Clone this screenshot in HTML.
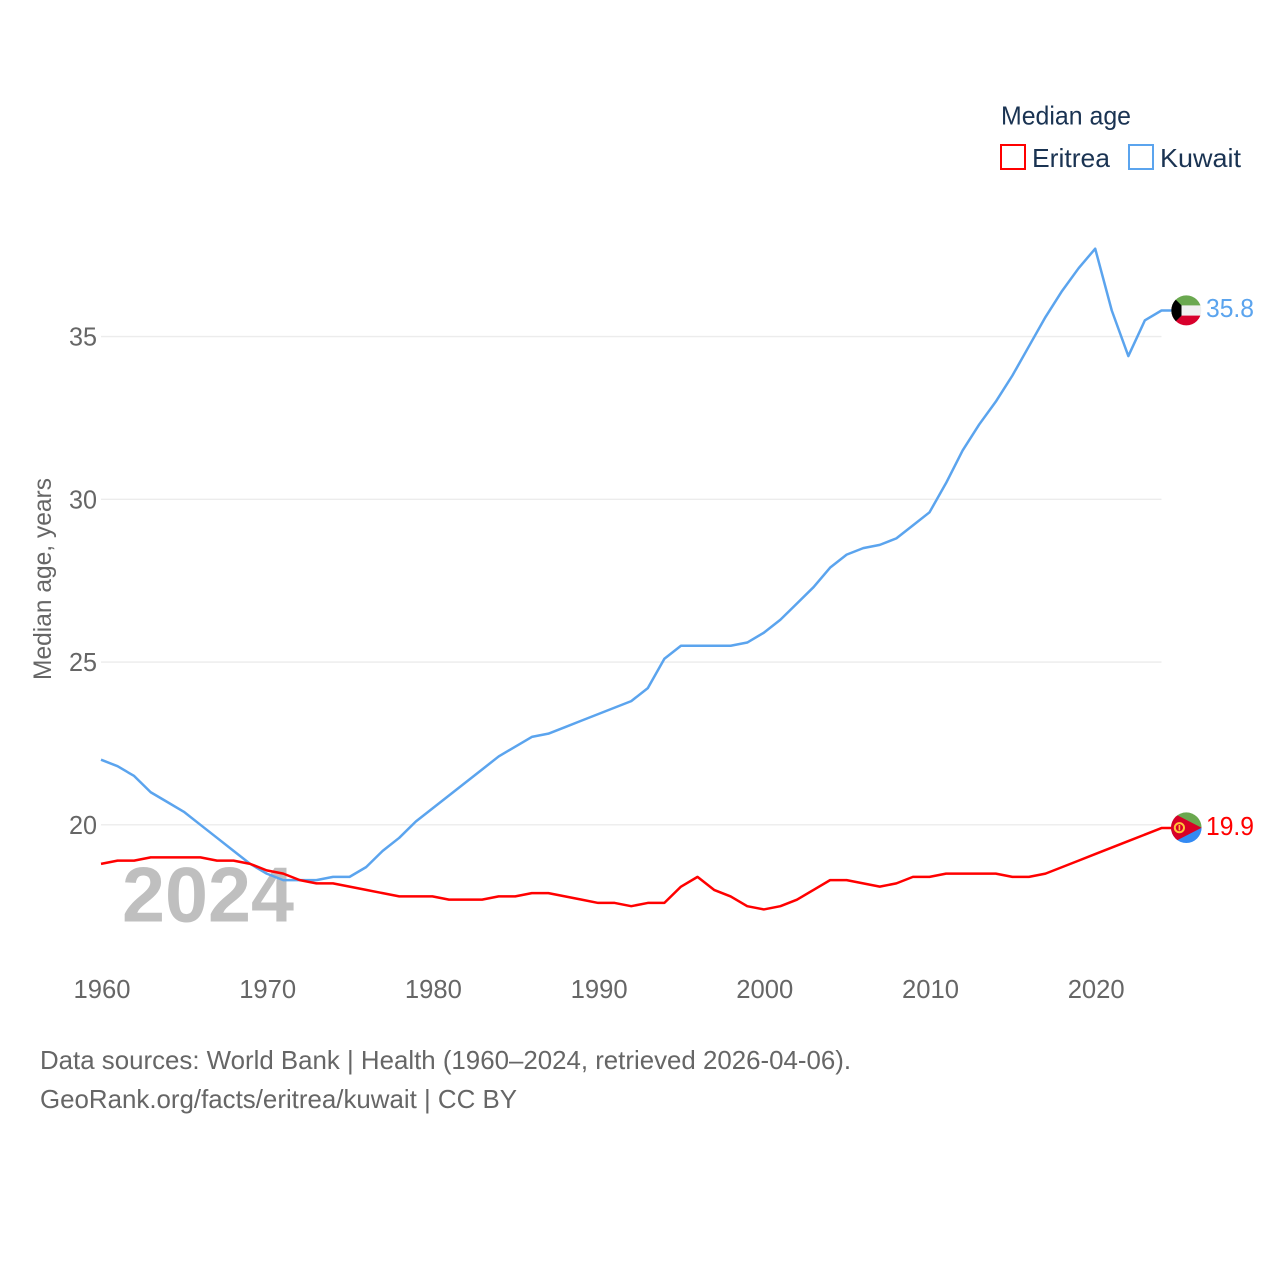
<!DOCTYPE html>
<html lang="en">
<head>
<meta charset="utf-8">
<title>Median age: Eritrea and Kuwait</title>
<style>
html,body{margin:0;padding:0;background:#fff;}
svg{display:block;}
text{font-family:"Liberation Sans",sans-serif;}
</style>
</head>
<body>
<svg id="chart" width="1280" height="1280" viewBox="0 0 1280 1280" xmlns="http://www.w3.org/2000/svg">
  <defs>
    <clipPath id="flag-clip-kw"><circle cx="1186.3" cy="310.4" r="15"/></clipPath>
    <clipPath id="flag-clip-er"><circle cx="1186.3" cy="827.7" r="15.3"/></clipPath>
  </defs>
  <rect x="0" y="0" width="1280" height="1280" fill="#ffffff"/>
  <g id="grid"></g>
  <text x="122" y="921.5" font-size="78" font-weight="700" fill="#bfbfbf" textLength="172" lengthAdjust="spacingAndGlyphs">2024</text>
  <g id="yticks"></g>
  <g id="xticks"></g>
  <text transform="translate(51 680) rotate(-90)" font-size="25" fill="#666666" textLength="202" lengthAdjust="spacingAndGlyphs">Median age, years</text>
  <g id="lines"></g>

  <g clip-path="url(#flag-clip-kw)">
    <rect x="1171" y="295" width="31" height="10.6" fill="#6aa84f"/>
    <rect x="1171" y="305.4" width="31" height="10.4" fill="#f0f0f0"/>
    <rect x="1171" y="315.6" width="31" height="11" fill="#d8002c"/>
    <polygon points="1171,295 1181.5,305.4 1181.5,315.6 1171,326" fill="#000000"/>
  </g>
  <text x="1206" y="317" font-size="26" fill="#5ba4ee" textLength="48" lengthAdjust="spacingAndGlyphs">35.8</text>

  <g clip-path="url(#flag-clip-er)">
    <rect x="1171" y="812" width="31" height="15.7" fill="#6aa84f"/>
    <rect x="1171" y="827.7" width="31" height="16" fill="#338af3"/>
    <polygon points="1171,812 1201.6,827.7 1171,843.4" fill="#d80027"/>
    <circle cx="1179.4" cy="827.7" r="4.6" fill="none" stroke="#ffc43a" stroke-width="2"/>
    <rect x="1178.6" y="825" width="1.6" height="5.4" fill="#ffc43a"/>
  </g>
  <text x="1206" y="835" font-size="26" fill="#ff0000" textLength="48" lengthAdjust="spacingAndGlyphs">19.9</text>

  <g>
    <text x="1001" y="124.5" font-size="26" fill="#1a3352" textLength="130" lengthAdjust="spacingAndGlyphs">Median age</text>
    <g>
      <rect x="1001" y="145" width="24" height="24" fill="#ffffff" stroke="#ff0000" stroke-width="2"/>
      <text x="1032" y="167" font-size="26" fill="#1a3352" textLength="78" lengthAdjust="spacingAndGlyphs">Eritrea</text>
    </g>
    <g>
      <rect x="1129" y="145" width="24" height="24" fill="#ffffff" stroke="#5ba4ee" stroke-width="2"/>
      <text x="1160" y="167" font-size="26" fill="#1a3352" textLength="81" lengthAdjust="spacingAndGlyphs">Kuwait</text>
    </g>
  </g>

  <g>
    <text x="40" y="1069" font-size="26" fill="#666666" textLength="811" lengthAdjust="spacingAndGlyphs">Data sources: World Bank | Health (1960–2024, retrieved 2026-04-06).</text>
    <text x="40" y="1108" font-size="26" fill="#666666" textLength="477" lengthAdjust="spacingAndGlyphs">GeoRank.org/facts/eritrea/kuwait | CC BY</text>
  </g>
</svg>
<script>
const years = [1960,1961,1962,1963,1964,1965,1966,1967,1968,1969,1970,1971,1972,1973,1974,1975,1976,1977,1978,1979,1980,1981,1982,1983,1984,1985,1986,1987,1988,1989,1990,1991,1992,1993,1994,1995,1996,1997,1998,1999,2000,2001,2002,2003,2004,2005,2006,2007,2008,2009,2010,2011,2012,2013,2014,2015,2016,2017,2018,2019,2020,2021,2022,2023,2024];
const eritreaValues = [18.8,18.9,18.9,19.0,19.0,19.0,19.0,18.9,18.9,18.8,18.6,18.5,18.3,18.2,18.2,18.1,18.0,17.9,17.8,17.8,17.8,17.7,17.7,17.7,17.8,17.8,17.9,17.9,17.8,17.7,17.6,17.6,17.5,17.6,17.6,18.1,18.4,18.0,17.8,17.5,17.4,17.5,17.7,18.0,18.3,18.3,18.2,18.1,18.2,18.4,18.4,18.5,18.5,18.5,18.5,18.4,18.4,18.5,18.7,18.9,19.1,19.3,19.5,19.7,19.9];
const kuwaitValues = [22.0,21.8,21.5,21.0,20.7,20.4,20.0,19.6,19.2,18.8,18.5,18.3,18.3,18.3,18.4,18.4,18.7,19.2,19.6,20.1,20.5,20.9,21.3,21.7,22.1,22.4,22.7,22.8,23.0,23.2,23.4,23.6,23.8,24.2,25.1,25.5,25.5,25.5,25.5,25.6,25.9,26.3,26.8,27.3,27.9,28.3,28.5,28.6,28.8,29.2,29.6,30.5,31.5,32.3,33.0,33.8,34.7,35.6,36.4,37.1,37.7,35.8,34.4,35.5,35.8];
const xTickLabels = [1960,1970,1980,1990,2000,2010,2020];
const yTickLabels = [20,25,30,35];

const NS = 'http://www.w3.org/2000/svg';
function xScale(year) { return 101 + (year - 1960) * 16.57; }
function yScale(value) { return 824.8 - (value - 20) * 32.55; }

const gridGroup = document.getElementById('grid');
const yTickGroup = document.getElementById('yticks');
const xTickGroup = document.getElementById('xticks');
const lineGroup = document.getElementById('lines');

yTickLabels.forEach(function (tick) {
  const line = document.createElementNS(NS, 'line');
  
  
  line.setAttribute('x1', xScale(1960));
  line.setAttribute('x2', xScale(2024));
  line.setAttribute('y1', yScale(tick));
  line.setAttribute('y2', yScale(tick));
  line.setAttribute('stroke', '#ececec');
  line.setAttribute('stroke-width', '1.4');
  gridGroup.appendChild(line);

  const label = document.createElementNS(NS, 'text');
  
  
  label.setAttribute('x', '69');
  label.setAttribute('y', yScale(tick) + 9);
  label.setAttribute('font-size', '26');
  label.setAttribute('fill', '#666666');
  label.setAttribute('textLength', '28');
  label.setAttribute('lengthAdjust', 'spacingAndGlyphs');
  label.textContent = tick;
  yTickGroup.appendChild(label);
});

xTickLabels.forEach(function (tick) {
  const label = document.createElementNS(NS, 'text');
  
  
  label.setAttribute('x', xScale(tick) - 27.5);
  label.setAttribute('y', '998');
  label.setAttribute('font-size', '26');
  label.setAttribute('fill', '#666666');
  label.setAttribute('textLength', '57');
  label.setAttribute('lengthAdjust', 'spacingAndGlyphs');
  label.textContent = tick;
  xTickGroup.appendChild(label);
});

function drawSeries(values, color, seriesName) {
  const points = values.map(function (value, i) {
    return xScale(years[i]).toFixed(2) + ',' + yScale(value).toFixed(2);
  });
  const lastY = yScale(values[values.length - 1]).toFixed(2);
  points.push('1172,' + lastY);
  const line = document.createElementNS(NS, 'polyline');
  
  
  line.setAttribute('points', points.join(' '));
  line.setAttribute('fill', 'none');
  line.setAttribute('stroke', color);
  line.setAttribute('stroke-width', '2.5');
  line.setAttribute('stroke-linejoin', 'round');
  lineGroup.appendChild(line);
}

drawSeries(kuwaitValues, '#5ba4ee', 'line-kuwait');
drawSeries(eritreaValues, '#ff0000', 'line-eritrea');
</script>
</body>
</html>
